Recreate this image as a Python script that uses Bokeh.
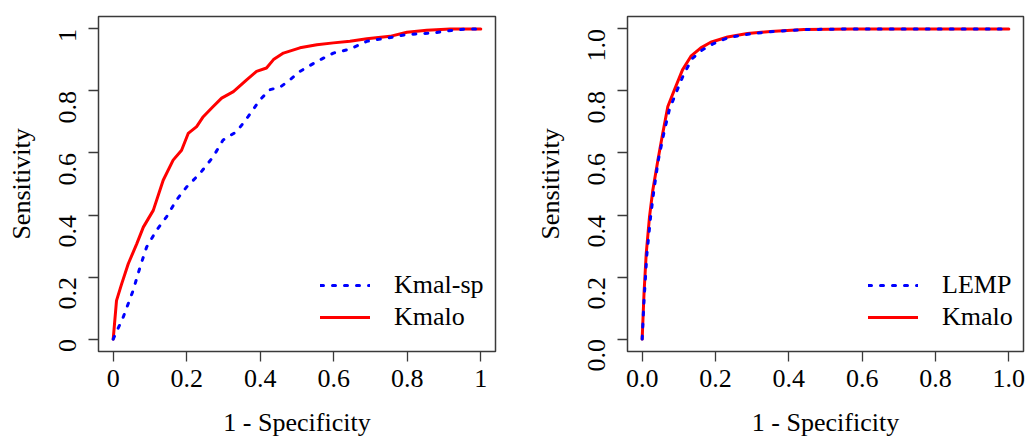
import math
from bokeh.plotting import figure
from bokeh.layouts import row
from bokeh.models import Range1d, FixedTicker, Legend, LegendItem, PrintfTickFormatter
from bokeh.embed import file_html
from bokeh.resources import INLINE

# ---- data ----
kmalo_left_fpr = [0, 0.009, 0.023, 0.041, 0.064, 0.082, 0.109, 0.136, 0.163, 0.186, 0.204, 0.227,
                  0.245, 0.272, 0.295, 0.327, 0.363, 0.390, 0.417, 0.436, 0.463, 0.508, 0.554,
                  0.599, 0.644, 0.690, 0.753, 0.799, 0.853, 0.917, 1.0]
kmalo_left_tpr = [0, 0.124, 0.178, 0.243, 0.307, 0.361, 0.415, 0.512, 0.577, 0.609, 0.663, 0.685,
                  0.717, 0.750, 0.777, 0.798, 0.836, 0.863, 0.874, 0.901, 0.922, 0.939, 0.949,
                  0.955, 0.960, 0.968, 0.976, 0.989, 0.996, 1.0, 1.0]
kmalsp_fpr = [0, 0.027, 0.054, 0.073, 0.091, 0.118, 0.145, 0.172, 0.200, 0.236, 0.272, 0.299,
              0.336, 0.367, 0.399, 0.426, 0.454, 0.481, 0.508, 0.554, 0.599, 0.644, 0.690,
              0.762, 0.799, 0.871, 0.898, 0.962, 1.0]
kmalsp_tpr = [0, 0.070, 0.156, 0.232, 0.297, 0.351, 0.394, 0.448, 0.491, 0.534, 0.588, 0.642,
              0.669, 0.717, 0.771, 0.804, 0.812, 0.836, 0.863, 0.895, 0.922, 0.935, 0.960,
              0.974, 0.982, 0.987, 0.992, 1.0, 1.0]

kmalo_right_fpr = [0, 0.005, 0.011, 0.020, 0.029, 0.043, 0.056, 0.070, 0.088, 0.110, 0.133,
                   0.160, 0.187, 0.233, 0.287, 0.350, 0.441, 0.576, 1.0]
kmalo_right_tpr = [0, 0.146, 0.275, 0.394, 0.480, 0.577, 0.663, 0.750, 0.804, 0.868, 0.912,
                   0.939, 0.957, 0.974, 0.985, 0.992, 0.998, 1.0, 1.0]
lemp_fpr = [0, 0.005, 0.013, 0.023, 0.032, 0.044, 0.059, 0.074, 0.092, 0.115, 0.138, 0.165,
            0.192, 0.237, 0.296, 0.359, 0.450, 0.576, 1.0]
lemp_tpr = [0, 0.124, 0.275, 0.394, 0.480, 0.577, 0.663, 0.739, 0.793, 0.858, 0.906, 0.933,
            0.951, 0.973, 0.984, 0.992, 0.998, 1.0, 1.0]

ticks = [0, 0.2, 0.4, 0.6, 0.8, 1.0]
x_title = "1 - Specificity"
y_title = "Sensitivity"

FONT = "Liberation Serif"
FS = "26px"
BOX = "#3a3a3a"


def make_panel(border_left, frame_w, border_right, short_labels):
    p = figure(output_backend="svg", toolbar_location=None,
               frame_width=frame_w, frame_height=335,
               min_border_left=border_left, min_border_right=border_right,
               min_border_top=16, min_border_bottom=86,
               x_range=Range1d(-0.04, 1.04), y_range=Range1d(-0.04, 1.04))
    p.grid.visible = False
    p.outline_line_color = BOX
    p.outline_line_width = 1.5
    p.outline_line_alpha = 1.0
    p.background_fill_color = "white"
    p.border_fill_color = "white"
    for ax in (p.xaxis[0], p.yaxis[0]):
        ax.ticker = FixedTicker(ticks=ticks)
        ax.axis_line_color = None
        ax.major_tick_line_color = BOX
        ax.major_tick_line_width = 1.3
        ax.major_tick_out = 10
        ax.major_tick_in = 0
        ax.minor_tick_line_color = None
        ax.major_label_text_font = FONT
        ax.major_label_text_font_size = FS
        ax.major_label_text_color = "black"
        ax.axis_label_text_font = FONT
        ax.axis_label_text_font_size = FS
        ax.axis_label_text_font_style = "normal"
        ax.axis_label_text_color = "black"
        if short_labels:
            ax.major_label_overrides = {0: "0", 1: "1"}
        else:
            ax.formatter = PrintfTickFormatter(format="%.1f")
    p.xaxis.axis_label = x_title
    p.yaxis.axis_label = y_title
    p.xaxis.major_label_standoff = 8
    p.xaxis.axis_label_standoff = 18
    p.yaxis.major_label_standoff = 21
    p.yaxis.axis_label_standoff = 12
    p.yaxis.major_label_orientation = math.pi / 2
    return p


def add_legend(p, items, x):
    leg = Legend(items=items, location=(x, 19), orientation="vertical")
    leg.border_line_color = None
    leg.background_fill_alpha = 0
    leg.padding = 0
    leg.margin = 0
    leg.spacing = 2
    leg.glyph_width = 50
    leg.glyph_height = 30
    leg.label_standoff = 24
    leg.label_text_font = FONT
    leg.label_text_font_size = FS
    leg.label_text_color = "black"
    leg.label_height = 30
    p.add_layout(leg)


# Left panel
p1 = make_panel(98, 397, 25, True)
r1 = p1.line(kmalo_left_fpr, kmalo_left_tpr, line_color="#ff0000", line_width=3,
             line_join="round", line_cap="round")
b1 = p1.line(kmalsp_fpr, kmalsp_tpr, line_color="#0000ff", line_width=3,
             line_dash="3 9", line_cap="round")
add_legend(p1, [LegendItem(label="Kmal-sp", renderers=[b1]),
                LegendItem(label="Kmalo", renderers=[r1])], 222)

# Right panel
p2 = make_panel(107, 396, 4, False)
r2 = p2.line(kmalo_right_fpr, kmalo_right_tpr, line_color="#ff0000", line_width=3,
             line_join="round", line_cap="round")
b2 = p2.line(lemp_fpr, lemp_tpr, line_color="#0000ff", line_width=3,
             line_dash="3 9", line_cap="round")
add_legend(p2, [LegendItem(label="LEMP", renderers=[b2]),
                LegendItem(label="Kmalo", renderers=[r2])], 241)

layout = row(p1, p2)
open("out.html", "w").write(file_html(layout, INLINE))
